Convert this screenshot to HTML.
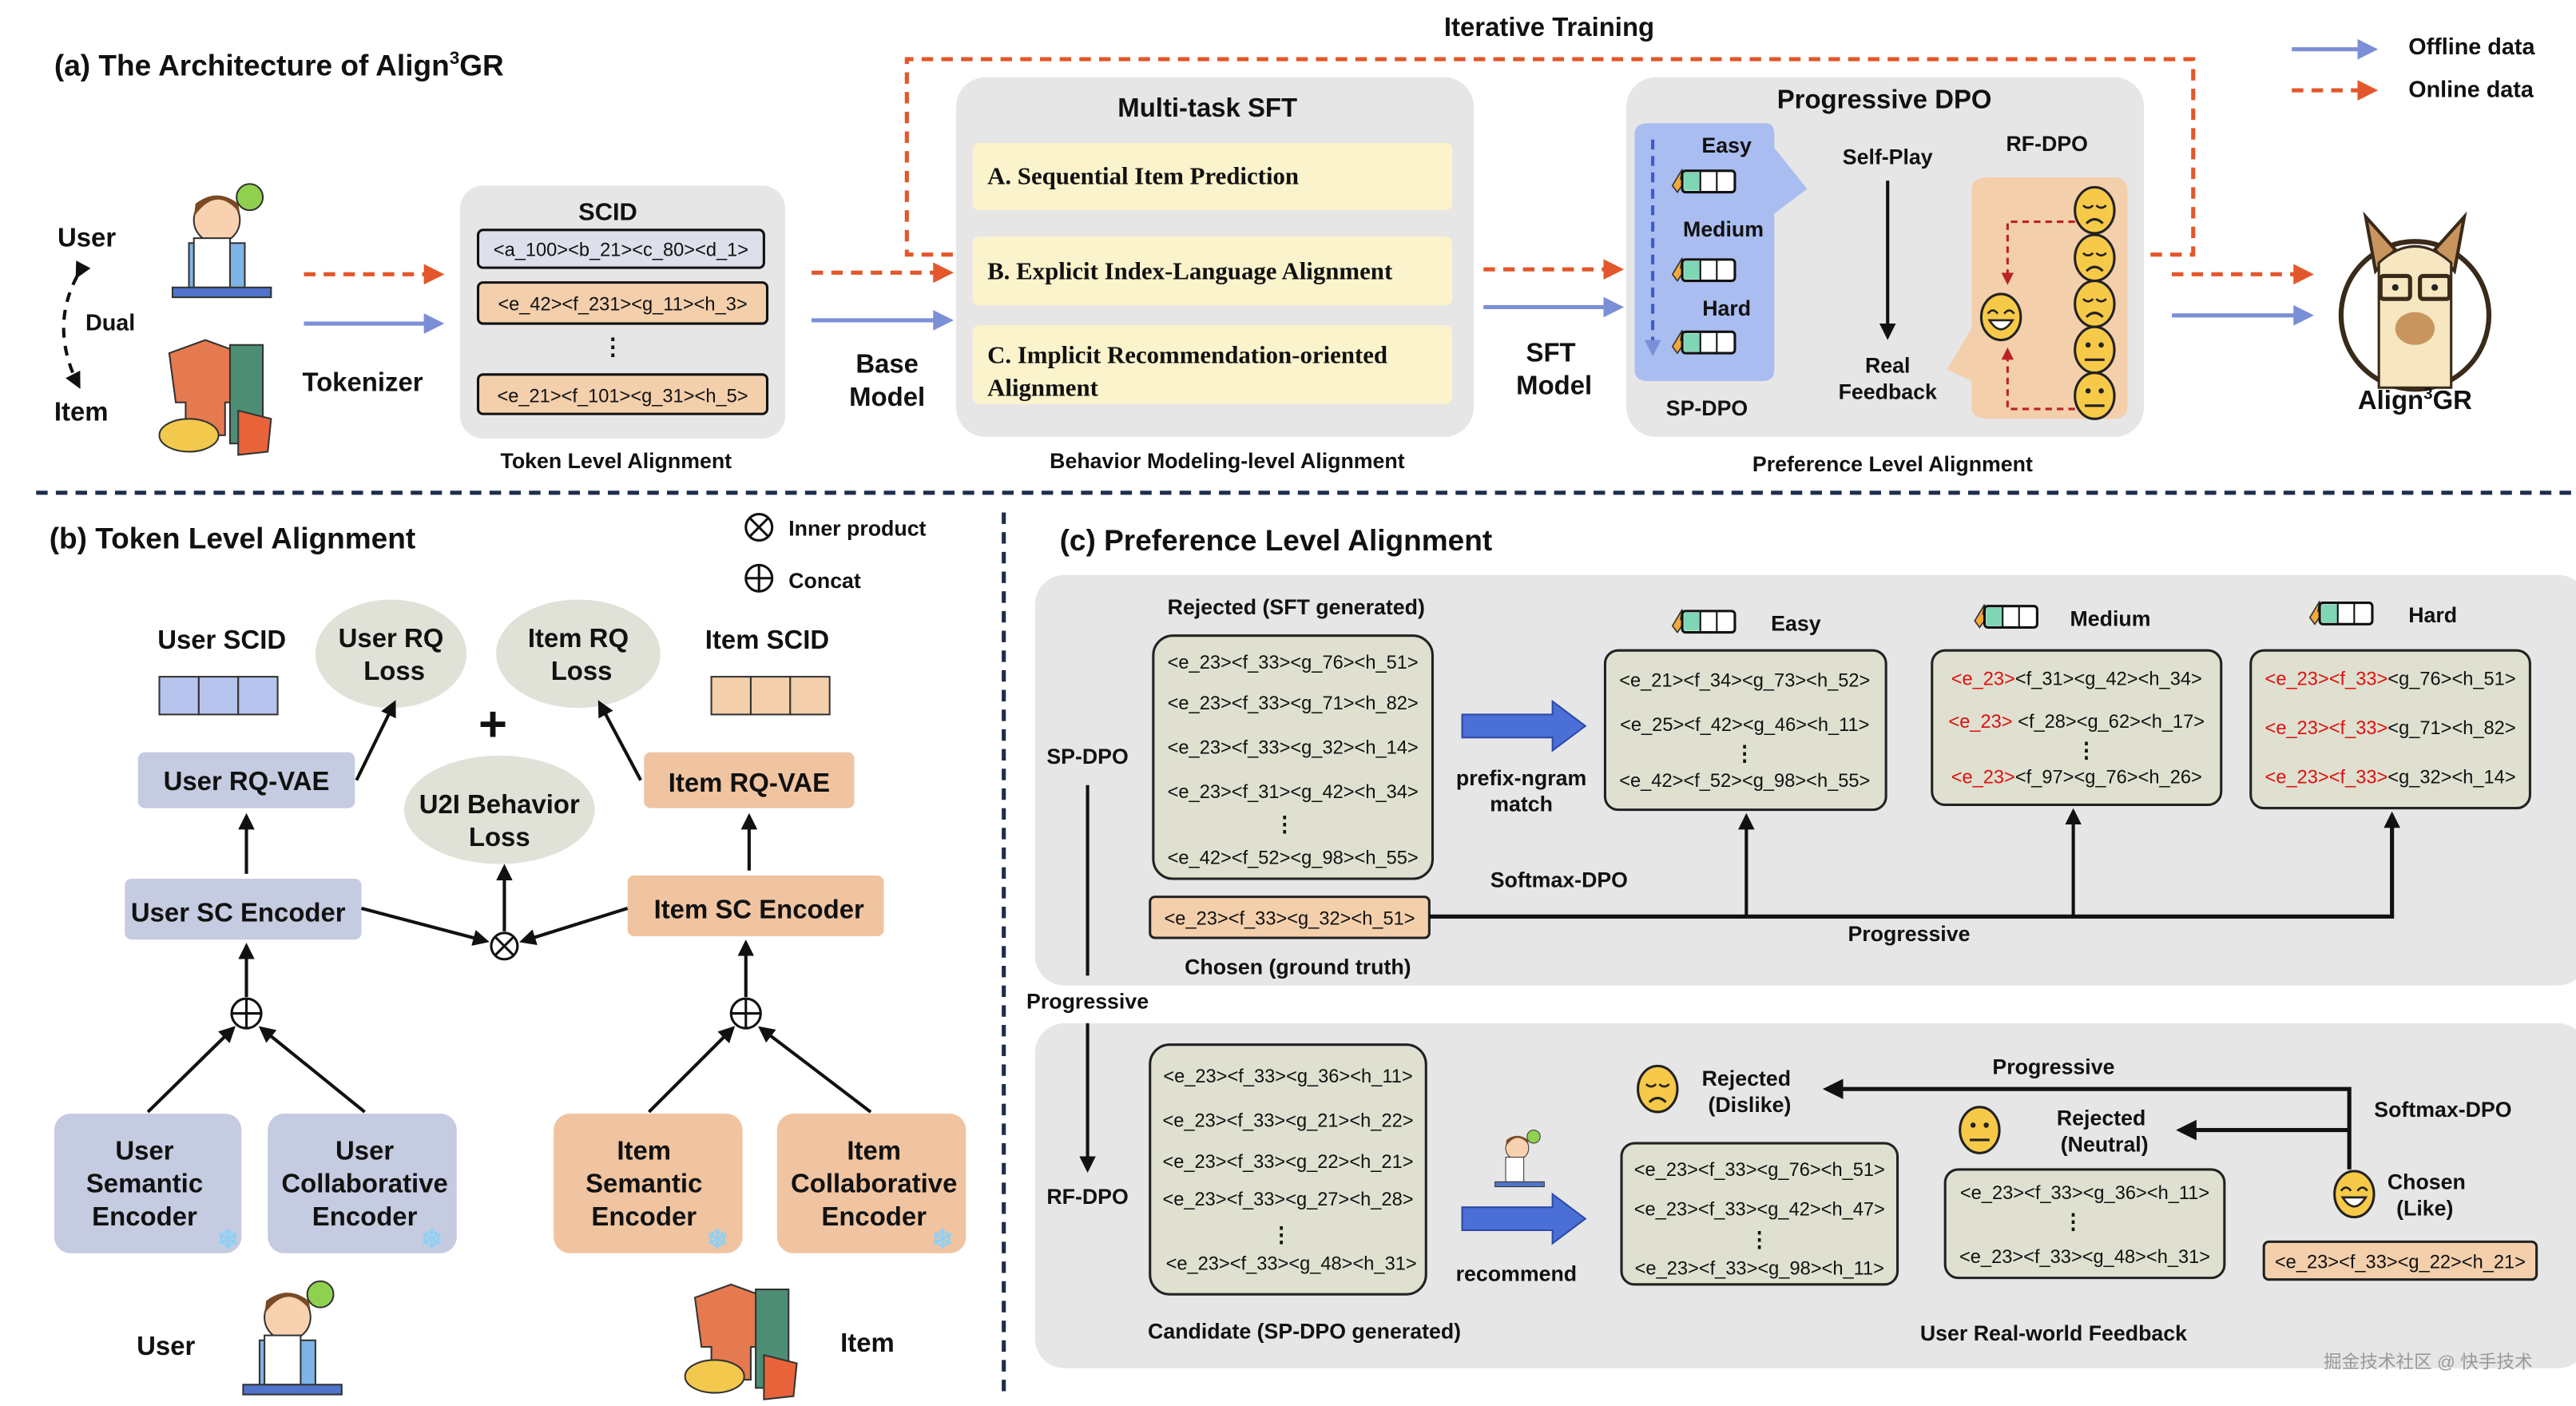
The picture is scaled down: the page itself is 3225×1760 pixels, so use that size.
<!DOCTYPE html>
<html><head><meta charset="utf-8"><style>html,body{margin:0;padding:0;background:#fff}svg{display:block}text{font-family:"Liberation Sans",sans-serif;font-weight:bold;fill:#111}.s{font-family:"Liberation Serif",serif}.c{font-weight:normal;font-size:11.5px}</style></head><body>
<svg width="3225" height="1760" viewBox="0 0 1568 856" preserveAspectRatio="none" xmlns="http://www.w3.org/2000/svg">
<defs>
<marker id="ab" viewBox="0 0 10 10" refX="8" refY="5" markerWidth="5" markerHeight="5" orient="auto"><path d="M0,0L10,5L0,10z" fill="#7b8fd6"/></marker>
<marker id="ao" viewBox="0 0 10 10" refX="8" refY="5" markerWidth="5" markerHeight="5" orient="auto"><path d="M0,0L10,5L0,10z" fill="#e2572b"/></marker>
<marker id="ak" viewBox="0 0 10 10" refX="8" refY="5" markerWidth="5" markerHeight="5" orient="auto"><path d="M0,0L10,5L0,10z" fill="#111"/></marker>
<marker id="ar" viewBox="0 0 10 10" refX="8" refY="5" markerWidth="5" markerHeight="5" orient="auto"><path d="M0,0L10,5L0,10z" fill="#b22"/></marker>
<g id="bat"><path d="M0,12 L6,2 L5,8 L10,6 L3,16z" fill="#f2a83b" stroke="#333" stroke-width="0.8"/><rect x="6" y="3" width="32" height="13" rx="2" fill="#fff" stroke="#111" stroke-width="1.5"/><rect x="7" y="4" width="10" height="11" fill="#7fd6b5"/><line x1="17" y1="3" x2="17" y2="16" stroke="#111"/><line x1="27" y1="3" x2="27" y2="16" stroke="#111"/></g>
<g id="sad"><ellipse rx="12" ry="14" fill="#f7c948" stroke="#222" stroke-width="1.5"/><path d="M-7,-3 Q-4,0 -1,-3 M1,-3 Q4,0 7,-3" fill="none" stroke="#222" stroke-width="1.3"/><path d="M-5,8 Q0,3 5,8" fill="none" stroke="#222" stroke-width="1.5"/></g>
<g id="neu"><ellipse rx="12" ry="14" fill="#f7c948" stroke="#222" stroke-width="1.5"/><circle cx="-4" cy="-3" r="1.6" fill="#222"/><circle cx="4" cy="-3" r="1.6" fill="#222"/><line x1="-6" y1="6" x2="6" y2="6" stroke="#222" stroke-width="1.5"/></g>
<g id="hap"><ellipse rx="12" ry="14" fill="#f7c948" stroke="#222" stroke-width="1.5"/><path d="M-8,-2 Q-5,-6 -2,-2 M2,-2 Q5,-6 8,-2" fill="none" stroke="#222" stroke-width="1.3"/><path d="M-7,2 H7 Q0,13 -7,2z" fill="#fff" stroke="#222" stroke-width="1.3"/></g>
</defs>

<text x="33" y="46" font-size="18">(a) The Architecture of  Align<tspan font-size="11" dy="-7">3</tspan><tspan dy="7">GR</tspan></text>
<text x="943" y="22" font-size="16" text-anchor="middle">Iterative Training</text>
<line x1="1395" y1="30" x2="1445" y2="30" stroke="#7b8fd6" stroke-width="2.5" marker-end="url(#ab)"/>
<text x="1466" y="33" font-size="14">Offline data</text>
<line x1="1395" y1="55" x2="1445" y2="55" stroke="#e2572b" stroke-width="2.5" stroke-dasharray="7,5" marker-end="url(#ao)"/>
<text x="1466" y="59" font-size="14">Online data</text>
<path d="M580,155 L552,155 L552,36 L1335,36 L1335,155 L1305,155" fill="none" stroke="#e2572b" stroke-width="2.5" stroke-dasharray="7,5"/>

<text x="35" y="150" font-size="16">User</text>
<text x="52" y="201" font-size="14">Dual</text>
<text x="33" y="256" font-size="16">Item</text>
<path d="M47,168 Q30,200 48,235" fill="none" stroke="#111" stroke-width="2" stroke-dasharray="6,5" marker-start="url(#ak)" marker-end="url(#ak)"/>
<g transform="translate(105,112)"><circle cx="27" cy="22" r="14" fill="#f8d2b0" stroke="#333"/><path d="M13,20 Q27,0 41,18 L40,12 Q27,2 14,12z" fill="#7a4a25"/><circle cx="47" cy="8" r="8" fill="#8fd14f" stroke="#333"/><rect x="10" y="36" width="34" height="28" fill="#7fb4e6" stroke="#333"/><rect x="13" y="33" width="22" height="30" fill="#fff" stroke="#333"/><rect x="0" y="63" width="60" height="6" fill="#4f74c9" stroke="#333"/></g>
<g transform="translate(95,205)"><path d="M8,10 L30,2 L52,10 L48,40 L42,40 L42,60 L18,60 L18,40 L12,40z" fill="#e5794f" stroke="#333"/><rect x="45" y="5" width="20" height="60" fill="#4d8d73" stroke="#333"/><ellipse cx="20" cy="60" rx="18" ry="10" fill="#f2c94c" stroke="#333"/><path d="M50,45 L70,50 L68,70 L50,72z" fill="#e8633a" stroke="#333"/></g>
<line x1="185" y1="167" x2="268" y2="167" stroke="#e2572b" stroke-width="2.5" stroke-dasharray="7,5" marker-end="url(#ao)"/>
<line x1="185" y1="197" x2="268" y2="197" stroke="#7b8fd6" stroke-width="2.5" marker-end="url(#ab)"/>
<text x="184" y="238" font-size="16">Tokenizer</text>

<rect x="280" y="113" width="198" height="154" rx="14" fill="#e6e6e6"/>
<text x="370" y="134" font-size="15" text-anchor="middle">SCID</text>
<rect x="291" y="140" width="174" height="23" rx="3" fill="#dde0ea" stroke="#111" stroke-width="1.5"/>
<text x="378" y="156" class="c" text-anchor="middle">&lt;a_100&gt;&lt;b_21&gt;&lt;c_80&gt;&lt;d_1&gt;</text>
<rect x="291" y="172" width="176" height="25" rx="3" fill="#f3cfac" stroke="#111" stroke-width="1.5"/>
<text x="379" y="189" class="c" text-anchor="middle">&lt;e_42&gt;&lt;f_231&gt;&lt;g_11&gt;&lt;h_3&gt;</text>
<text x="373" y="216" font-size="14" text-anchor="middle">⋮</text>
<rect x="291" y="228" width="176" height="24" rx="3" fill="#f3cfac" stroke="#111" stroke-width="1.5"/>
<text x="379" y="245" class="c" text-anchor="middle">&lt;e_21&gt;&lt;f_101&gt;&lt;g_31&gt;&lt;h_5&gt;</text>
<text x="375" y="285" font-size="13" text-anchor="middle">Token Level Alignment</text>

<line x1="494" y1="166" x2="578" y2="166" stroke="#e2572b" stroke-width="2.5" stroke-dasharray="7,5" marker-end="url(#ao)"/>
<line x1="494" y1="195" x2="578" y2="195" stroke="#7b8fd6" stroke-width="2.5" marker-end="url(#ab)"/>
<text x="540" y="227" font-size="16" text-anchor="middle">Base</text>
<text x="540" y="247" font-size="16" text-anchor="middle">Model</text>

<rect x="582" y="47" width="315" height="219" rx="18" fill="#e6e6e6"/>
<text x="735" y="71" font-size="16" text-anchor="middle">Multi-task SFT</text>
<rect x="592" y="87" width="292" height="41" rx="4" fill="#fbf3cc"/>
<text x="601" y="112" font-size="15" class="s" font-weight="bold">A. Sequential Item Prediction</text>
<rect x="592" y="144" width="292" height="42" rx="4" fill="#fbf3cc"/>
<text x="601" y="170" font-size="15" class="s" font-weight="bold">B. Explicit Index-Language Alignment</text>
<rect x="592" y="198" width="292" height="48" rx="4" fill="#fbf3cc"/>
<text x="601" y="221" font-size="15" class="s" font-weight="bold">C. Implicit Recommendation-oriented</text>
<text x="601" y="241" font-size="15" class="s" font-weight="bold">Alignment</text>
<text x="747" y="285" font-size="13" text-anchor="middle">Behavior Modeling-level Alignment</text>

<line x1="903" y1="164" x2="986" y2="164" stroke="#e2572b" stroke-width="2.5" stroke-dasharray="7,5" marker-end="url(#ao)"/>
<line x1="903" y1="187" x2="986" y2="187" stroke="#7b8fd6" stroke-width="2.5" marker-end="url(#ab)"/>
<text x="944" y="220" font-size="16" text-anchor="middle">SFT</text>
<text x="946" y="240" font-size="16" text-anchor="middle">Model</text>

<rect x="990" y="47" width="315" height="219" rx="18" fill="#e6e6e6"/>
<text x="1147" y="66" font-size="16" text-anchor="middle">Progressive DPO</text>
<path d="M1003,75 L1075,75 Q1080,75 1080,82 L1080,90 L1100,115 L1080,130 L1080,225 Q1080,232 1073,232 L1003,232 Q995,232 995,225 L995,82 Q995,75 1003,75z" fill="#a9bdf0"/>
<text x="1051" y="93" font-size="13" text-anchor="middle">Easy</text>
<use href="#bat" x="1018" y="101"/>
<text x="1049" y="144" font-size="13" text-anchor="middle">Medium</text>
<use href="#bat" x="1018" y="155"/>
<text x="1051" y="192" font-size="13" text-anchor="middle">Hard</text>
<use href="#bat" x="1018" y="199"/>
<line x1="1006" y1="85" x2="1006" y2="215" stroke="#3d5bd0" stroke-width="2" stroke-dasharray="6,4" marker-end="url(#ab)"/>
<text x="1039" y="253" font-size="13" text-anchor="middle">SP-DPO</text>
<text x="1149" y="100" font-size="13" text-anchor="middle">Self-Play</text>
<line x1="1149" y1="110" x2="1149" y2="205" stroke="#111" stroke-width="2" marker-end="url(#ak)"/>
<text x="1149" y="227" font-size="13" text-anchor="middle">Real</text>
<text x="1149" y="243" font-size="13" text-anchor="middle">Feedback</text>
<text x="1246" y="92" font-size="13" text-anchor="middle">RF-DPO</text>
<path d="M1210,108 L1287,108 Q1295,108 1295,116 L1295,247 Q1295,255 1287,255 L1210,255 Q1200,255 1200,247 L1200,232 L1185,225 L1200,200 L1200,116 Q1200,108 1210,108z" fill="#f3cfac"/>
<use href="#sad" x="1275" y="128"/><use href="#sad" x="1275" y="157"/><use href="#sad" x="1275" y="185"/><use href="#neu" x="1275" y="213"/><use href="#neu" x="1275" y="241"/>
<use href="#hap" x="1218" y="193"/>
<path d="M1263,135 L1222,135 L1222,172" fill="none" stroke="#b22" stroke-width="1.5" stroke-dasharray="4,3" marker-end="url(#ar)"/>
<path d="M1263,249 L1222,249 L1222,213" fill="none" stroke="#b22" stroke-width="1.5" stroke-dasharray="4,3" marker-end="url(#ar)"/>
<text x="1152" y="287" font-size="13" text-anchor="middle">Preference  Level Alignment</text>

<line x1="1322" y1="167" x2="1406" y2="167" stroke="#e2572b" stroke-width="2.5" stroke-dasharray="7,5" marker-end="url(#ao)"/>
<line x1="1322" y1="192" x2="1406" y2="192" stroke="#7b8fd6" stroke-width="2.5" marker-end="url(#ab)"/>
<ellipse cx="1470" cy="192" rx="45" ry="45" fill="#fff" stroke="#3a2a1a" stroke-width="3"/>
<path d="M1446,165 L1440,132 L1458,152z M1494,165 L1500,132 L1482,152z" fill="#c9955f" stroke="#3a2a1a" stroke-width="2"/>
<path d="M1448,236 L1448,160 Q1470,140 1492,160 L1492,236z" fill="#f6e7c1" stroke="#3a2a1a" stroke-width="1.5"/>
<ellipse cx="1470" cy="200" rx="12" ry="10" fill="#c9955f"/>
<rect x="1449" y="168" width="18" height="14" rx="2" fill="none" stroke="#3a2a1a" stroke-width="2.5"/><rect x="1473" y="168" width="18" height="14" rx="2" fill="none" stroke="#3a2a1a" stroke-width="2.5"/>
<circle cx="1458" cy="175" r="2" fill="#222"/><circle cx="1482" cy="175" r="2" fill="#222"/>
<text x="1470" y="249" font-size="16" text-anchor="middle">Align<tspan font-size="10" dy="-6">3</tspan><tspan dy="6">GR</tspan></text>

<line x1="22" y1="300" x2="1568" y2="300" stroke="#1f2d4d" stroke-width="2.5" stroke-dasharray="7,5"/>
<line x1="611" y1="312" x2="611" y2="852" stroke="#1f2d4d" stroke-width="2.5" stroke-dasharray="7,5"/>

<text x="30" y="334" font-size="18">(b) Token Level Alignment</text>
<circle cx="462" cy="321" r="8" fill="none" stroke="#111" stroke-width="1.5"/><path d="M456,315L468,327M468,315L456,327" stroke="#111" stroke-width="1.5"/>
<text x="480" y="326" font-size="13">Inner product</text>
<circle cx="462" cy="352" r="8" fill="none" stroke="#111" stroke-width="1.5"/><path d="M454,352H470M462,344V360" stroke="#111" stroke-width="1.5"/>
<text x="480" y="358" font-size="13">Concat</text>
<text x="135" y="395" font-size="16" text-anchor="middle">User SCID</text>
<rect x="97" y="412" width="24" height="23" fill="#b6c4ee" stroke="#333"/><rect x="121" y="412" width="24" height="23" fill="#b6c4ee" stroke="#333"/><rect x="145" y="412" width="24" height="23" fill="#b6c4ee" stroke="#333"/>
<text x="467" y="395" font-size="16" text-anchor="middle">Item SCID</text>
<rect x="433" y="412" width="24" height="23" fill="#f3cfac" stroke="#333"/><rect x="457" y="412" width="24" height="23" fill="#f3cfac" stroke="#333"/><rect x="481" y="412" width="24" height="23" fill="#f3cfac" stroke="#333"/>
<ellipse cx="238" cy="398" rx="46" ry="33" fill="#e0e2d8"/>
<text x="238" y="394" font-size="16" text-anchor="middle">User RQ</text><text x="240" y="414" font-size="16" text-anchor="middle">Loss</text>
<ellipse cx="352" cy="398" rx="50" ry="33" fill="#e0e2d8"/>
<text x="352" y="394" font-size="16" text-anchor="middle">Item RQ</text><text x="354" y="414" font-size="16" text-anchor="middle">Loss</text>
<text x="300" y="451" font-size="30" font-weight="normal" text-anchor="middle">+</text>
<ellipse cx="304" cy="493" rx="58" ry="33" fill="#e0e2d8"/>
<text x="304" y="495" font-size="16" text-anchor="middle">U2I Behavior</text><text x="304" y="515" font-size="16" text-anchor="middle">Loss</text>
<rect x="84" y="458" width="132" height="34" rx="4" fill="#c5cbe0"/>
<text x="150" y="481" font-size="16" text-anchor="middle">User RQ-VAE</text>
<rect x="392" y="458" width="128" height="34" rx="4" fill="#f0c4a0"/>
<text x="456" y="482" font-size="16" text-anchor="middle">Item RQ-VAE</text>
<line x1="150" y1="532" x2="150" y2="497" stroke="#111" stroke-width="2" marker-end="url(#ak)"/>
<line x1="456" y1="530" x2="456" y2="497" stroke="#111" stroke-width="2" marker-end="url(#ak)"/>
<line x1="217" y1="475" x2="240" y2="428" stroke="#111" stroke-width="2" marker-end="url(#ak)"/>
<line x1="390" y1="475" x2="365" y2="428" stroke="#111" stroke-width="2" marker-end="url(#ak)"/>
<rect x="76" y="535" width="144" height="37" rx="4" fill="#c5cbe0"/>
<text x="145" y="561" font-size="16" text-anchor="middle">User SC Encoder</text>
<rect x="382" y="533" width="156" height="37" rx="4" fill="#f0c4a0"/>
<text x="462" y="559" font-size="16" text-anchor="middle">Item SC Encoder</text>
<line x1="220" y1="553" x2="296" y2="573" stroke="#111" stroke-width="2" marker-end="url(#ak)"/>
<line x1="382" y1="553" x2="318" y2="573" stroke="#111" stroke-width="2" marker-end="url(#ak)"/>
<circle cx="307" cy="576" r="8" fill="#fff" stroke="#111" stroke-width="1.5"/><path d="M301,570L313,582M313,570L301,582" stroke="#111" stroke-width="1.5"/>
<line x1="307" y1="567" x2="307" y2="528" stroke="#111" stroke-width="2" marker-end="url(#ak)"/>
<circle cx="150" cy="617" r="9" fill="#fff" stroke="#111" stroke-width="1.5"/><path d="M141,617H159M150,608V626" stroke="#111" stroke-width="1.5"/>
<circle cx="454" cy="617" r="9" fill="#fff" stroke="#111" stroke-width="1.5"/><path d="M445,617H463M454,608V626" stroke="#111" stroke-width="1.5"/>
<line x1="150" y1="607" x2="150" y2="576" stroke="#111" stroke-width="2" marker-end="url(#ak)"/>
<line x1="454" y1="607" x2="454" y2="574" stroke="#111" stroke-width="2" marker-end="url(#ak)"/>
<line x1="90" y1="677" x2="142" y2="626" stroke="#111" stroke-width="2" marker-end="url(#ak)"/>
<line x1="222" y1="677" x2="159" y2="626" stroke="#111" stroke-width="2" marker-end="url(#ak)"/>
<line x1="395" y1="677" x2="446" y2="626" stroke="#111" stroke-width="2" marker-end="url(#ak)"/>
<line x1="530" y1="677" x2="463" y2="626" stroke="#111" stroke-width="2" marker-end="url(#ak)"/>
<rect x="33" y="678" width="114" height="85" rx="10" fill="#c5cbe0"/>
<text x="88" y="706" font-size="16" text-anchor="middle">User</text><text x="88" y="726" font-size="16" text-anchor="middle">Semantic</text><text x="88" y="746" font-size="16" text-anchor="middle">Encoder</text>
<text x="132" y="760" font-size="16" style="fill:#8fd0f2">❄</text>
<rect x="163" y="678" width="115" height="85" rx="10" fill="#c5cbe0"/>
<text x="222" y="706" font-size="16" text-anchor="middle">User</text><text x="222" y="726" font-size="16" text-anchor="middle">Collaborative</text><text x="222" y="746" font-size="16" text-anchor="middle">Encoder</text>
<text x="256" y="760" font-size="16" style="fill:#8fd0f2">❄</text>
<rect x="337" y="678" width="115" height="85" rx="10" fill="#f0c4a0"/>
<text x="392" y="706" font-size="16" text-anchor="middle">Item</text><text x="392" y="726" font-size="16" text-anchor="middle">Semantic</text><text x="392" y="746" font-size="16" text-anchor="middle">Encoder</text>
<text x="430" y="760" font-size="16" style="fill:#8fd0f2">❄</text>
<rect x="473" y="678" width="115" height="85" rx="10" fill="#f0c4a0"/>
<text x="532" y="706" font-size="16" text-anchor="middle">Item</text><text x="532" y="726" font-size="16" text-anchor="middle">Collaborative</text><text x="532" y="746" font-size="16" text-anchor="middle">Encoder</text>
<text x="567" y="760" font-size="16" style="fill:#8fd0f2">❄</text>
<text x="101" y="825" font-size="16" text-anchor="middle">User</text>
<g transform="translate(148,780)"><circle cx="27" cy="22" r="14" fill="#f8d2b0" stroke="#333"/><path d="M13,20 Q27,0 41,18 L40,12 Q27,2 14,12z" fill="#7a4a25"/><circle cx="47" cy="8" r="8" fill="#8fd14f" stroke="#333"/><rect x="10" y="36" width="34" height="28" fill="#7fb4e6" stroke="#333"/><rect x="13" y="33" width="22" height="30" fill="#fff" stroke="#333"/><rect x="0" y="63" width="60" height="6" fill="#4f74c9" stroke="#333"/></g>
<g transform="translate(415,780)"><path d="M8,10 L30,2 L52,10 L48,40 L42,40 L42,60 L18,60 L18,40 L12,40z" fill="#e5794f" stroke="#333"/><rect x="45" y="5" width="20" height="60" fill="#4d8d73" stroke="#333"/><ellipse cx="20" cy="58" rx="18" ry="10" fill="#f2c94c" stroke="#333"/><path d="M50,45 L70,50 L68,70 L50,72z" fill="#e8633a" stroke="#333"/></g>
<text x="528" y="823" font-size="16" text-anchor="middle">Item</text>

<text x="645" y="335" font-size="18">(c) Preference  Level Alignment</text>
<rect x="630" y="350" width="945" height="250" rx="18" fill="#e6e6e6"/>
<rect x="630" y="623" width="945" height="210" rx="18" fill="#e6e6e6"/>
<text x="789" y="374" font-size="13" text-anchor="middle">Rejected (SFT generated)</text>
<rect x="702" y="387" width="170" height="148" rx="12" fill="#dfe0d0" stroke="#222" stroke-width="1.5"/>
<text x="787" y="407" class="c" text-anchor="middle">&lt;e_23&gt;&lt;f_33&gt;&lt;g_76&gt;&lt;h_51&gt;</text>
<text x="787" y="432" class="c" text-anchor="middle">&lt;e_23&gt;&lt;f_33&gt;&lt;g_71&gt;&lt;h_82&gt;</text>
<text x="787" y="459" class="c" text-anchor="middle">&lt;e_23&gt;&lt;f_33&gt;&lt;g_32&gt;&lt;h_14&gt;</text>
<text x="787" y="486" class="c" text-anchor="middle">&lt;e_23&gt;&lt;f_31&gt;&lt;g_42&gt;&lt;h_34&gt;</text>
<text x="782" y="506" font-size="13" text-anchor="middle">⋮</text>
<text x="787" y="526" class="c" text-anchor="middle">&lt;e_42&gt;&lt;f_52&gt;&lt;g_98&gt;&lt;h_55&gt;</text>
<rect x="700" y="546" width="170" height="25" rx="3" fill="#f3cfac" stroke="#222" stroke-width="1.5"/>
<text x="785" y="563" class="c" text-anchor="middle">&lt;e_23&gt;&lt;f_33&gt;&lt;g_32&gt;&lt;h_51&gt;</text>
<text x="790" y="593" font-size="13" text-anchor="middle">Chosen (ground  truth)</text>
<text x="662" y="465" font-size="13" text-anchor="middle">SP-DPO</text>
<line x1="662" y1="478" x2="662" y2="594" stroke="#111" stroke-width="2"/>
<text x="662" y="614" font-size="13" text-anchor="middle">Progressive</text>
<line x1="662" y1="623" x2="662" y2="712" stroke="#111" stroke-width="2" marker-end="url(#ak)"/>
<text x="662" y="733" font-size="13" text-anchor="middle">RF-DPO</text>
<path d="M890,435 H945 V427 L965,442 L945,457 V449 H890z" fill="#4a6fd6" stroke="#2d4aa8"/>
<text x="926" y="478" font-size="13" text-anchor="middle">prefix-ngram</text>
<text x="926" y="494" font-size="13" text-anchor="middle">match</text>
<use href="#bat" x="1018" y="369"/><text x="1078" y="384" font-size="13">Easy</text>
<use href="#bat" x="1202" y="366"/><text x="1260" y="381" font-size="13">Medium</text>
<use href="#bat" x="1406" y="364"/><text x="1466" y="379" font-size="13">Hard</text>
<rect x="977" y="396" width="171" height="97" rx="8" fill="#dfe0d0" stroke="#222" stroke-width="1.5"/>
<text x="1062" y="418" class="c" text-anchor="middle">&lt;e_21&gt;&lt;f_34&gt;&lt;g_73&gt;&lt;h_52&gt;</text>
<text x="1062" y="445" class="c" text-anchor="middle">&lt;e_25&gt;&lt;f_42&gt;&lt;g_46&gt;&lt;h_11&gt;</text>
<text x="1062" y="463" font-size="13" text-anchor="middle">⋮</text>
<text x="1062" y="479" class="c" text-anchor="middle">&lt;e_42&gt;&lt;f_52&gt;&lt;g_98&gt;&lt;h_55&gt;</text>
<rect x="1176" y="396" width="176" height="94" rx="8" fill="#dfe0d0" stroke="#222" stroke-width="1.5"/>
<text x="1264" y="417" class="c" text-anchor="middle"><tspan style="fill:#d11">&lt;e_23&gt;</tspan>&lt;f_31&gt;&lt;g_42&gt;&lt;h_34&gt;</text>
<text x="1264" y="443" class="c" text-anchor="middle"><tspan style="fill:#d11">&lt;e_23&gt;</tspan> &lt;f_28&gt;&lt;g_62&gt;&lt;h_17&gt;</text>
<text x="1270" y="461" font-size="13" text-anchor="middle">⋮</text>
<text x="1264" y="477" class="c" text-anchor="middle"><tspan style="fill:#d11">&lt;e_23&gt;</tspan>&lt;f_97&gt;&lt;g_76&gt;&lt;h_26&gt;</text>
<rect x="1370" y="396" width="170" height="96" rx="8" fill="#dfe0d0" stroke="#222" stroke-width="1.5"/>
<text x="1455" y="417" class="c" text-anchor="middle"><tspan style="fill:#d11">&lt;e_23&gt;&lt;f_33&gt;</tspan>&lt;g_76&gt;&lt;h_51&gt;</text>
<text x="1455" y="447" class="c" text-anchor="middle"><tspan style="fill:#d11">&lt;e_23&gt;&lt;f_33&gt;</tspan>&lt;g_71&gt;&lt;h_82&gt;</text>
<text x="1455" y="477" class="c" text-anchor="middle"><tspan style="fill:#d11">&lt;e_23&gt;&lt;f_33&gt;</tspan>&lt;g_32&gt;&lt;h_14&gt;</text>
<text x="949" y="540" font-size="13" text-anchor="middle">Softmax-DPO</text>
<path d="M870,558 H1456 V500" fill="none" stroke="#111" stroke-width="2.5"/>
<line x1="1063" y1="558" x2="1063" y2="497" stroke="#111" stroke-width="2" marker-end="url(#ak)"/>
<line x1="1262" y1="558" x2="1262" y2="494" stroke="#111" stroke-width="2" marker-end="url(#ak)"/>
<line x1="1456" y1="520" x2="1456" y2="496" stroke="#111" stroke-width="2" marker-end="url(#ak)"/>
<text x="1162" y="573" font-size="13" text-anchor="middle">Progressive</text>

<rect x="700" y="636" width="168" height="152" rx="12" fill="#dfe0d0" stroke="#222" stroke-width="1.5"/>
<text x="784" y="659" class="c" text-anchor="middle">&lt;e_23&gt;&lt;f_33&gt;&lt;g_36&gt;&lt;h_11&gt;</text>
<text x="784" y="686" class="c" text-anchor="middle">&lt;e_23&gt;&lt;f_33&gt;&lt;g_21&gt;&lt;h_22&gt;</text>
<text x="784" y="711" class="c" text-anchor="middle">&lt;e_23&gt;&lt;f_33&gt;&lt;g_22&gt;&lt;h_21&gt;</text>
<text x="784" y="734" class="c" text-anchor="middle">&lt;e_23&gt;&lt;f_33&gt;&lt;g_27&gt;&lt;h_28&gt;</text>
<text x="780" y="756" font-size="13" text-anchor="middle">⋮</text>
<text x="786" y="773" class="c" text-anchor="middle">&lt;e_23&gt;&lt;f_33&gt;&lt;g_48&gt;&lt;h_31&gt;</text>
<text x="794" y="815" font-size="13" text-anchor="middle">Candidate (SP-DPO generated)</text>
<g transform="translate(910,688) scale(0.5)"><circle cx="27" cy="22" r="14" fill="#f8d2b0" stroke="#333"/><path d="M13,20 Q27,0 41,18 L40,12 Q27,2 14,12z" fill="#7a4a25"/><circle cx="47" cy="8" r="8" fill="#8fd14f" stroke="#333"/><rect x="13" y="33" width="22" height="30" fill="#fff" stroke="#333"/><rect x="0" y="63" width="60" height="6" fill="#4f74c9" stroke="#333"/></g>
<path d="M890,735 H945 V727 L965,742 L945,757 V749 H890z" fill="#4a6fd6" stroke="#2d4aa8"/>
<text x="923" y="780" font-size="13" text-anchor="middle">recommend</text>
<use href="#sad" x="1009" y="663"/>
<text x="1063" y="661" font-size="13" text-anchor="middle">Rejected</text><text x="1065" y="677" font-size="13" text-anchor="middle">(Dislike)</text>
<rect x="987" y="696" width="168" height="86" rx="8" fill="#dfe0d0" stroke="#222" stroke-width="1.5"/>
<text x="1071" y="716" class="c" text-anchor="middle">&lt;e_23&gt;&lt;f_33&gt;&lt;g_76&gt;&lt;h_51&gt;</text>
<text x="1071" y="740" class="c" text-anchor="middle">&lt;e_23&gt;&lt;f_33&gt;&lt;g_42&gt;&lt;h_47&gt;</text>
<text x="1071" y="759" font-size="13" text-anchor="middle">⋮</text>
<text x="1071" y="776" class="c" text-anchor="middle">&lt;e_23&gt;&lt;f_33&gt;&lt;g_98&gt;&lt;h_11&gt;</text>
<use href="#neu" x="1205" y="688"/>
<text x="1279" y="685" font-size="13" text-anchor="middle">Rejected</text><text x="1281" y="701" font-size="13" text-anchor="middle">(Neutral)</text>
<rect x="1184" y="712" width="170" height="66" rx="8" fill="#dfe0d0" stroke="#222" stroke-width="1.5"/>
<text x="1269" y="730" class="c" text-anchor="middle">&lt;e_23&gt;&lt;f_33&gt;&lt;g_36&gt;&lt;h_11&gt;</text>
<text x="1262" y="748" font-size="13" text-anchor="middle">⋮</text>
<text x="1269" y="769" class="c" text-anchor="middle">&lt;e_23&gt;&lt;f_33&gt;&lt;g_48&gt;&lt;h_31&gt;</text>
<use href="#hap" x="1433" y="727"/>
<text x="1477" y="724" font-size="13" text-anchor="middle">Chosen</text><text x="1476" y="740" font-size="13" text-anchor="middle">(Like)</text>
<rect x="1378" y="756" width="166" height="23" rx="3" fill="#f3cfac" stroke="#222" stroke-width="1.5"/>
<text x="1461" y="772" class="c" text-anchor="middle">&lt;e_23&gt;&lt;f_33&gt;&lt;g_22&gt;&lt;h_21&gt;</text>
<path d="M1430,712 V663 H1112" fill="none" stroke="#111" stroke-width="2.5" marker-end="url(#ak)"/>
<line x1="1430" y1="688" x2="1327" y2="688" stroke="#111" stroke-width="2.5" marker-end="url(#ak)"/>
<text x="1250" y="654" font-size="13" text-anchor="middle">Progressive</text>
<text x="1487" y="680" font-size="13" text-anchor="middle">Softmax-DPO</text>
<text x="1250" y="816" font-size="13" text-anchor="middle">User Real-world Feedback</text>
<text x="1478" y="833" font-size="11" text-anchor="middle" style="fill:#999;font-weight:normal;font-family:'Liberation Sans','Noto Sans CJK SC',sans-serif">掘金技术社区 @ 快手技术</text>
</svg>
</body></html>
